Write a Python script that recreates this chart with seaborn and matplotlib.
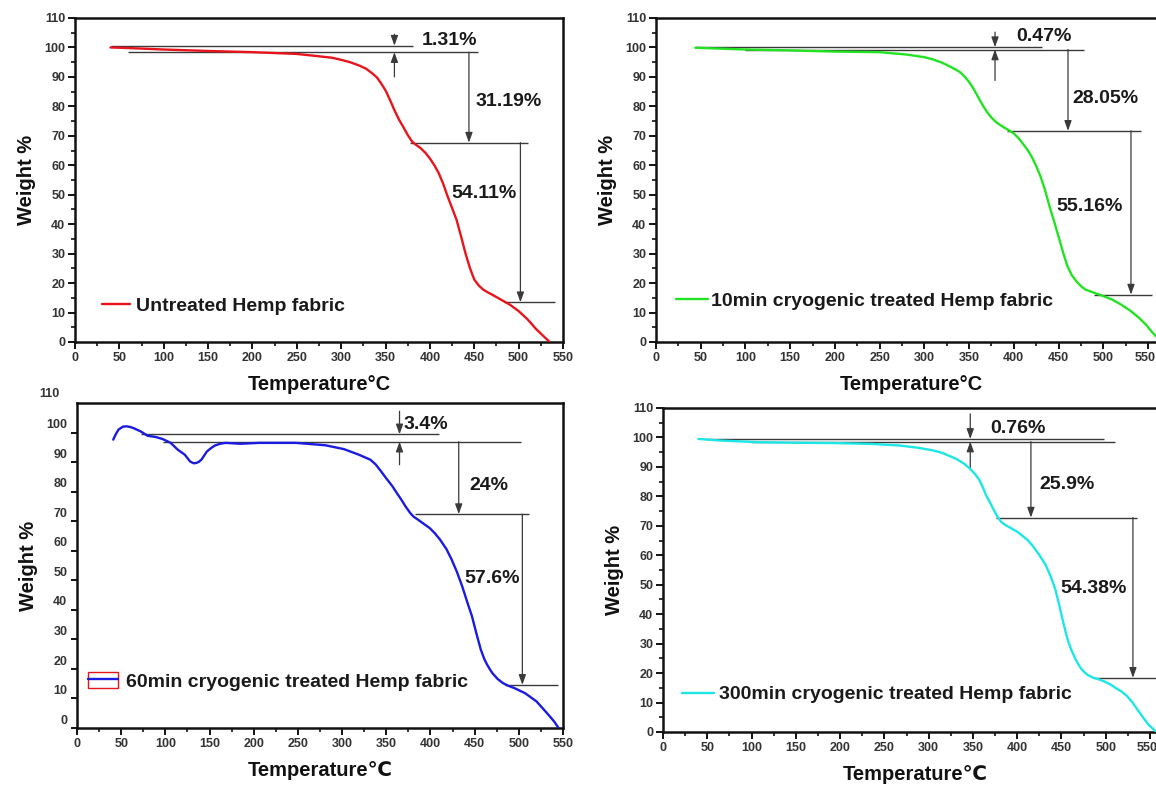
import numpy as np
import pandas as pd
import matplotlib
matplotlib.use("Agg")
import matplotlib.pyplot as plt
import seaborn as sns
from matplotlib.lines import Line2D
from matplotlib.patches import Rectangle
from matplotlib.legend_handler import HandlerTuple
import matplotlib.transforms as mtransforms

# ---------------- data ----------------
temp_untreated = [40, 60, 100, 150, 200, 250, 275, 290, 300, 310, 320, 328, 335, 340, 345, 350, 355,
                  360, 365, 370, 375, 380, 385, 390, 395, 400, 405, 410, 415, 420, 425, 430, 435,
                  440, 445, 450, 455, 460, 465, 470, 480, 490, 500, 510, 520, 528, 535]
wt_untreated = [100.0, 99.8, 99.3, 98.8, 98.4, 97.8, 97.0, 96.5, 95.8, 95.0, 93.9, 92.8, 91.2, 89.9,
                87.8, 85.4, 82.2, 78.7, 75.6, 73.0, 70.3, 68.0, 66.8, 65.7, 64.2, 62.3, 60.0, 57.3,
                53.7, 49.4, 45.5, 41.5, 36.0, 30.2, 25.2, 21.2, 19.2, 17.8, 16.9, 16.1, 14.4, 12.7,
                10.5, 7.7, 4.3, 2.0, 0.0]

temp_10min = [44, 100, 150, 200, 250, 280, 300, 310, 320, 330, 335, 340, 345, 350, 355, 360, 365, 370,
              375, 380, 385, 390, 395, 400, 405, 410, 415, 420, 425, 430, 435, 440, 445, 450, 455,
              460, 465, 470, 475, 480, 490, 500, 510, 520, 530, 540, 548, 555, 565]
wt_10min = [99.9, 99.3, 99.0, 98.6, 98.4, 97.6, 96.7, 95.9, 94.8, 93.3, 92.5, 91.6, 90.1, 88.3, 86.0,
            83.2, 80.5, 78.1, 76.2, 74.7, 73.6, 72.7, 71.8, 70.8, 69.3, 67.4, 65.4, 62.9, 59.8, 56.1,
            51.5, 46.0, 41.0, 35.8, 30.5, 25.7, 22.6, 20.6, 19.0, 17.8, 16.7, 15.6, 14.4, 12.7, 10.7,
            8.2, 5.8, 3.2, 0.0]

temp_60min = [41, 44, 47, 52, 56, 60, 64, 72, 80, 89, 97, 106, 114, 122, 128, 132, 135, 138, 141, 147,
              152, 156, 162, 168, 185, 206, 248, 281, 302, 319, 332, 338, 344, 350, 357, 362, 367,
              372, 377, 381, 386, 392, 399, 405, 411, 418, 424, 430, 436, 441, 447, 452, 457, 461,
              464, 467, 470, 476, 482, 488, 495, 507, 520, 532, 540, 545]
wt_60min = [94.6, 96.5, 98.0, 99.0, 99.1, 98.9, 98.5, 97.4, 95.9, 95.5, 94.8, 93.5, 91.2, 89.5, 87.2,
            86.6, 86.7, 87.1, 87.9, 90.6, 91.8, 92.6, 93.2, 93.5, 93.2, 93.5, 93.5, 92.7, 91.4, 89.5,
            87.8, 86.2, 83.9, 81.5, 78.8, 76.5, 74.3, 71.9, 69.8, 68.5, 67.5, 66.2, 64.7, 62.9, 60.7,
            57.6, 54.0, 49.8, 44.9, 40.2, 34.8, 29.0, 23.5, 20.3, 18.5, 17.0, 15.6, 13.6, 12.2, 11.3,
            10.5, 8.8, 6.0, 2.0, -0.8, -3.0]

temp_300min = [40, 65, 107, 150, 193, 236, 266, 288, 305, 315, 322, 332, 340, 346, 352, 357, 361, 365,
               370, 374, 378, 382, 387, 393, 400, 406, 412, 418, 425, 432, 438, 443, 447, 451, 455,
               458, 461, 466, 470, 473, 477, 480, 486, 492, 498, 505, 511, 518, 524, 530, 537, 543,
               548, 557]
wt_300min = [99.5, 98.95, 98.4, 98.2, 98.1, 97.8, 97.3, 96.5, 95.6, 94.8, 93.9, 92.6, 91.1, 89.6, 87.7,
             85.7, 83.2, 80.3, 77.5, 75.1, 73.0, 71.3, 70.2, 69.2, 68.0, 66.6, 65.1, 63.0, 60.1, 56.8,
             52.7, 48.5, 43.7, 38.5, 33.6, 30.4, 28.0, 24.6, 22.5, 21.2, 20.0, 19.3, 18.4, 17.9, 17.2,
             16.2, 15.0, 13.7, 12.2, 10.1, 7.1, 4.6, 2.6, 0.0]

series_labels = ["Untreated Hemp fabric", "10min cryogenic treated Hemp fabric",
                 "60min cryogenic treated Hemp fabric", "300min cryogenic treated Hemp fabric"]
loss_labels_untreated = ["1.31%", "31.19%", "54.11%"]
loss_labels_10min = ["0.47%", "28.05%", "55.16%"]
loss_labels_60min = ["3.4%", "24%", "57.6%"]
loss_labels_300min = ["0.76%", "25.9%", "54.38%"]

# step levels (weight %) of the annotation lines
levels_untreated = [100.6, 98.4, 67.7, 13.5]
levels_10min = [100.1, 99.3, 71.7, 16.1]
levels_60min = [96.4, 93.9, 69.4, 11.6]
levels_300min = [99.5, 98.6, 72.8, 18.4]

x_ticks = list(range(0, 551, 50))
y_ticks = list(range(0, 111, 10))

# ---------------- style ----------------
sns.set_theme(style="ticks")
plt.rcParams["font.family"] = ["Liberation Sans", "DejaVu Sans"]
plt.rcParams["font.weight"] = "bold"
plt.rcParams["axes.labelweight"] = "bold"

fig = plt.figure(figsize=(11.56, 7.87), dpi=100)

W, H = 1156.0, 787.0


def make_axes(left_px, right_px, top_px, bottom_px):
    return fig.add_axes([left_px / W, 1 - bottom_px / H, (right_px - left_px) / W, (bottom_px - top_px) / H])


ANN_COLOR = "#3a3a3a"
TXT_COLOR = "#1a1a1a"


def hline(ax, y, x0, x1):
    ax.plot([x0, x1], [y, y], color=ANN_COLOR, lw=1.0, solid_capstyle="butt", zorder=2)


def arrow(ax, x, y_from, y_to):
    ax.annotate("", xy=(x, y_to), xytext=(x, y_from),
                arrowprops=dict(arrowstyle="-|>,head_length=0.5,head_width=0.18", color=ANN_COLOR,
                                lw=0.9, shrinkA=0, shrinkB=0), zorder=3)


def annotate_panel(ax, lv, labels, A, B, xs, top, bot, xv1, C, xv2, D, t1, t2, t3):
    hline(ax, lv[0], *A)
    hline(ax, lv[1], *B)
    arrow(ax, xs, top, lv[0])
    arrow(ax, xs, bot, lv[1])
    arrow(ax, xv1, lv[1], lv[2])
    hline(ax, lv[2], *C)
    arrow(ax, xv2, lv[2], lv[3])
    hline(ax, lv[3], *D)
    for (tx, ty), s in zip([t1, t2, t3], labels):
        ax.text(tx, ty, s, fontsize=14, fontweight="bold", color=TXT_COLOR, ha="left", va="center", zorder=4)


def style_axes(ax, xlim, ylim, xlabel, shifted=False, nudge_last=False):
    ax.set_xlim(*xlim)
    ax.set_ylim(*ylim)
    ax.set_xticks(x_ticks)
    ax.set_xticks(np.arange(25, 551, 50), minor=True)
    if not shifted:
        ax.set_yticks(y_ticks)
        ax.set_yticks(np.arange(5, 111, 10), minor=True)
        ax.tick_params(axis="both", which="major", length=5, width=1.4, direction="out", color="#111",
                       labelsize=9, labelcolor="#333", pad=2)
        ax.tick_params(axis="both", which="minor", length=3, width=1.2, direction="out", color="#111")
    else:
        ax.set_yticks(y_ticks[:-1])
        ax.set_yticks(np.arange(-3, 107, 10), minor=True)
        ax.tick_params(axis="x", which="major", length=5, width=1.4, direction="out", color="#111",
                       labelsize=9, labelcolor="#333", pad=2)
        ax.tick_params(axis="x", which="minor", length=3, width=1.2, direction="out", color="#111")
        ax.tick_params(axis="y", which="major", length=0, labelsize=9, labelcolor="#333", pad=7)
        ax.tick_params(axis="y", which="minor", length=4, width=1.4, direction="out", color="#111")
        ax.text(-0.035, (110 - ylim[0]) / (ylim[1] - ylim[0]), "110", transform=ax.transAxes,
                ha="right", va="center", fontsize=9, fontweight="bold", color="#333", clip_on=False)
    for lab in ax.get_xticklabels() + ax.get_yticklabels():
        lab.set_fontweight("bold")
    if nudge_last:
        last = ax.get_xticklabels()[-1]
        last.set_transform(last.get_transform() + mtransforms.ScaledTranslation(-3 / 100, 0, fig.dpi_scale_trans))
    for sp in ax.spines.values():
        sp.set_visible(True)
        sp.set_linewidth(1.8)
        sp.set_color("#111")
    ax.set_xlabel(xlabel, fontsize=14.5, fontweight="bold", color="#111", labelpad=8)
    ax.set_ylabel("Weight %", fontsize=14.5, fontweight="bold", color="#111", labelpad=6)


def add_legend(ax, handle, label, x, y, hl, pad, handler_map=None, hh=0.7):
    ax.legend([handle], [label], loc="center left", bbox_to_anchor=(x, y), frameon=False,
              borderpad=0, borderaxespad=0, handlelength=hl, handletextpad=pad, handleheight=hh,
              handler_map=handler_map, prop=dict(size=14, weight="bold"), labelcolor=TXT_COLOR)


LW = 1.7

# ---------------- panel 1 ----------------
ax1 = make_axes(75, 563, 18, 342)
d1 = pd.DataFrame({"T": temp_untreated, "W": wt_untreated})
sns.lineplot(data=d1, x="T", y="W", ax=ax1, color="#e8141c", lw=LW, sort=False, estimator=None, zorder=5)
style_axes(ax1, (0, 550), (0, 110), "Temperature°C")
annotate_panel(ax1, levels_untreated, loss_labels_untreated,
               (41, 381), (60, 454), 360, 104.5, 90.0, 444, (378, 510), 502, (484, 541),
               (391, 102.3), (451, 81.5), (424, 50.5))
add_legend(ax1, Line2D([], [], color="#e8141c", lw=LW), series_labels[0], 30 / 550, 12.2 / 110, 1.45, 0.32)

# ---------------- panel 2 ----------------
ax2 = make_axes(656, 656 + 570 * 0.8945, 18, 342)
d2 = pd.DataFrame({"T": temp_10min, "W": wt_10min})
sns.lineplot(data=d2, x="T", y="W", ax=ax2, color="#22e322", lw=LW, sort=False, estimator=None, zorder=5)
style_axes(ax2, (0, 570), (0, 110), "Temperature°C", nudge_last=True)
annotate_panel(ax2, levels_10min, loss_labels_10min,
               (44, 431), (100, 478), 379, 105.2, 88.8, 460.6, (392.6, 542.7), 531, (490, 554),
               (403, 103.7), (465, 82.6), (448, 46.0))
add_legend(ax2, Line2D([], [], color="#22e322", lw=LW), series_labels[1], 22.5 / 570, 13.9 / 110, 1.63, 0.14)

# ---------------- panel 3 ----------------
ax3 = make_axes(77, 563, 403, 728)
d3 = pd.DataFrame({"T": temp_60min, "W": wt_60min})
sns.lineplot(data=d3, x="T", y="W", ax=ax3, color="#1a1ae0", lw=LW, sort=False, estimator=None, zorder=5)
style_axes(ax3, (0, 550), (-3, 107), "Temperature℃", shifted=True)
annotate_panel(ax3, levels_60min, loss_labels_60min,
               (72, 410), (97, 502), 365, 104.2, 86.1, 432, (382, 511.5), 504, (484, 544),
               (370, 99.7), (444.6, 79.0), (438, 47.5))
h3 = (Rectangle((0, 0), 1, 1, facecolor="white", edgecolor="#e8141c", lw=1.0),
      Line2D([], [], color="#1a1ae0", lw=LW))
add_legend(ax3, h3, series_labels[2], 12.5 / 550, 15.75 / 110, 1.53, 0.44,
           handler_map={tuple: HandlerTuple(ndivide=1, pad=0)}, hh=0.85)

# ---------------- panel 4 ----------------
ax4 = make_axes(663, 663 + 570 * 0.8855, 408, 732)
d4 = pd.DataFrame({"T": temp_300min, "W": wt_300min})
sns.lineplot(data=d4, x="T", y="W", ax=ax4, color="#1ee6e6", lw=LW, sort=False, estimator=None, zorder=5)
style_axes(ax4, (0, 570), (0, 110), "Temperature℃", nudge_last=True)
annotate_panel(ax4, levels_300min, loss_labels_300min,
               (47, 498.5), (99, 511), 347, 108.0, 89.4, 415.5, (376, 535), 530.7, (487.7, 563),
               (369.6, 103.2), (425.4, 84.0), (449, 48.8))
add_legend(ax4, Line2D([], [], color="#1ee6e6", lw=LW), series_labels[3], 21.5 / 570, 12.7 / 110, 1.62, 0.30)

fig.savefig("out.png", dpi=100)
